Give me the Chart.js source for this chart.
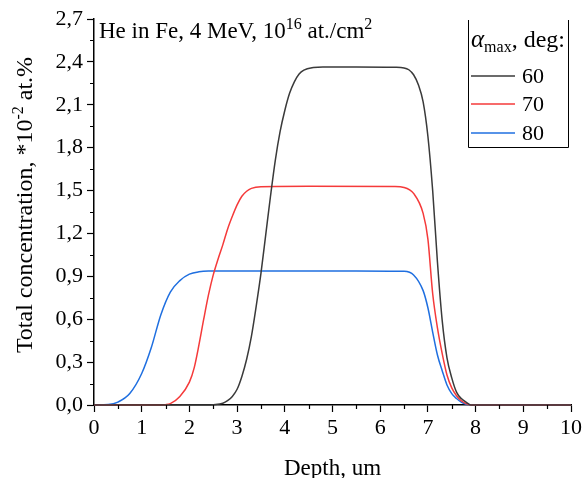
<!DOCTYPE html>
<html>
<head>
<meta charset="utf-8">
<script src="https://cdn.jsdelivr.net/npm/chart.js@4.4.1/dist/chart.umd.min.js"></script>
<style>
  html, body { margin: 0; padding: 0; background: #fff; }
  #wrap { width: 585px; height: 478px; }
</style>
</head>
<body>
<div id="wrap"><canvas id="c"></canvas></div>
<script>
  // values (depth in um, concentration in 10^-2 at.%)
  const labels = ['60', '70', '80'];
  const depth60 = [0, 2.4, 2.5, 2.7, 2.8, 2.9, 3.0, 3.1, 3.2, 3.3, 3.4, 3.5, 3.6, 3.7, 3.8, 3.9, 4.0, 4.1, 4.2, 4.3, 4.4, 4.6, 4.8, 5.5, 6.3, 6.5, 6.6, 6.7, 6.8, 6.9, 7.0, 7.1, 7.2, 7.3, 7.4, 7.5, 7.6, 7.7, 7.8, 7.9, 10];
  const conc60 = [0, 0, 0.002, 0.012, 0.03, 0.06, 0.11, 0.2, 0.32, 0.48, 0.69, 0.92, 1.19, 1.46, 1.71, 1.91, 2.06, 2.18, 2.26, 2.315, 2.342, 2.36, 2.365, 2.365, 2.362, 2.358, 2.345, 2.31, 2.24, 2.12, 1.88, 1.5, 1.0, 0.59, 0.33, 0.19, 0.09, 0.045, 0.02, 0, 0];
  const depth70 = [0, 1.4, 1.5, 1.6, 1.8, 2.0, 2.1, 2.2, 2.3, 2.4, 2.5, 2.6, 2.7, 2.8, 2.9, 3.0, 3.1, 3.2, 3.3, 3.5, 4.5, 6.3, 6.5, 6.7, 6.9, 7.0, 7.1, 7.2, 7.3, 7.4, 7.5, 7.6, 7.7, 7.8, 7.9, 10];
  const conc70 = [0, 0, 0.002, 0.01, 0.06, 0.16, 0.26, 0.42, 0.6, 0.77, 0.91, 1.02, 1.12, 1.23, 1.32, 1.4, 1.46, 1.495, 1.515, 1.527, 1.53, 1.528, 1.522, 1.48, 1.34, 1.16, 0.78, 0.54, 0.36, 0.21, 0.12, 0.065, 0.03, 0.01, 0, 0];
  const depth80 = [0, 0.3, 0.5, 0.75, 1.0, 1.2, 1.4, 1.6, 1.8, 2.0, 2.2, 2.4, 3.5, 5.5, 6.5, 6.7, 6.9, 7.0, 7.1, 7.2, 7.3, 7.4, 7.5, 7.6, 7.7, 7.8, 8.0, 10];
  const conc80 = [0, 0.003, 0.02, 0.08, 0.22, 0.4, 0.63, 0.79, 0.87, 0.915, 0.932, 0.937, 0.938, 0.938, 0.935, 0.91, 0.8, 0.68, 0.51, 0.35, 0.24, 0.14, 0.08, 0.045, 0.02, 0.005, 0, 0];
  const colors = ['#3a3a3a', '#f53a3a', '#1f6fe0'];

  const serif = '"Liberation Serif", "Times New Roman", serif';
  const pts = (xs, ys) => xs.map((x, i) => ({ x, y: ys[i] }));

  // text with superscripts/subscripts: parts = [text, shift, scale, italic]
  function drawRich(ctx, parts, size, x, y, align) {
    const w = parts.map(p => {
      ctx.font = (p[3] ? 'italic ' : '') + Math.round(size * (p[2] || 1)) + 'px ' + serif;
      return ctx.measureText(p[0]).width;
    });
    const total = w.reduce((a, b) => a + b, 0);
    let cx = align === 'center' ? x - total / 2 : x;
    parts.forEach((p, i) => {
      ctx.font = (p[3] ? 'italic ' : '') + Math.round(size * (p[2] || 1)) + 'px ' + serif;
      ctx.fillText(p[0], cx, y + (p[1] || 0) * size);
      cx += w[i];
    });
    return total;
  }

  const extras = {
    id: 'extras',
    afterDraw(chart) {
      const ctx = chart.ctx;
      const xs = chart.scales.x, ys = chart.scales.y;
      const a = chart.chartArea;
      ctx.save();
      ctx.strokeStyle = '#000';
      ctx.lineWidth = 1.2;
      // minor ticks
      ctx.beginPath();
      for (let v = 0.5; v < 10; v += 1) {
        const px = Math.round(xs.getPixelForValue(v)) + 0.5;
        ctx.moveTo(px, a.bottom); ctx.lineTo(px, a.bottom + 4);
      }
      for (let v = 0.15; v < 2.7; v += 0.3) {
        const py = Math.round(ys.getPixelForValue(v)) + 0.5;
        ctx.moveTo(a.left, py); ctx.lineTo(a.left - 4, py);
      }
      ctx.stroke();

      ctx.fillStyle = '#000';
      ctx.textBaseline = 'alphabetic';
      ctx.textAlign = 'left';
      // x title
      drawRich(ctx, [['Depth, um']], 23, (a.left + a.right) / 2, 475, 'center');
      // y title
      ctx.save();
      ctx.translate(32, 205);
      ctx.rotate(-Math.PI / 2);
      drawRich(ctx, [['Total concentration, *10'], ['-2', -0.38, 0.68], [' at.%']], 24, 0, 0, 'center');
      ctx.restore();
      // plot title
      drawRich(ctx, [['He in Fe, 4 MeV, 10'], ['16', -0.4, 0.68], [' at./cm'], ['2', -0.4, 0.68]], 23, 99, 38, 'left');

      // legend
      const lx = 468, rx = 568, ty = 20, by = 147;
      ctx.lineWidth = 1;
      ctx.strokeStyle = '#000';
      ctx.beginPath();
      ctx.moveTo(lx + 0.5, ty); ctx.lineTo(lx + 0.5, by + 0.5);
      ctx.lineTo(rx + 0.5, by + 0.5); ctx.lineTo(rx + 0.5, ty);
      ctx.stroke();
      drawRich(ctx, [['\u03b1', 0, 1.05, true], ['max', 0.2, 0.68], [', deg:']], 24, 471, 47, 'left');
      const rows = [76, 104, 133];
      chart.data.datasets.forEach((ds, i) => {
        ctx.strokeStyle = ds.borderColor;
        ctx.lineWidth = 1.5;
        ctx.beginPath();
        ctx.moveTo(471, rows[i]); ctx.lineTo(515, rows[i]);
        ctx.stroke();
        ctx.textBaseline = 'middle';
        drawRich(ctx, [[ds.label]], 22, 522, rows[i] + 1, 'left');
        ctx.textBaseline = 'alphabetic';
      });
      ctx.restore();
    }
  };

  new Chart(document.getElementById('c'), {
    type: 'line',
    data: {
      datasets: labels.map((lab, i) => ({
        label: lab,
        data: pts([depth60, depth70, depth80][i], [conc60, conc70, conc80][i]),
        borderColor: colors[i],
        borderWidth: 1.5,
        pointRadius: 0,
        fill: false,
        cubicInterpolationMode: 'monotone',
        clip: false
      }))
    },
    options: {
      responsive: true,
      maintainAspectRatio: false,
      animation: false,
      layout: { padding: { top: 19, right: 13, left: 0, bottom: 0 } },
      plugins: {
        legend: { display: false },
        tooltip: { enabled: false }
      },
      scales: {
        x: {
          type: 'linear',
          min: 0, max: 10,
          ticks: { stepSize: 1, color: '#000', font: { family: serif, size: 22 }, padding: 3, maxRotation: 0 },
          grid: { drawOnChartArea: false, tickLength: 7, tickColor: '#000', tickWidth: 1.2 },
          border: { color: '#000', width: 1.5 },
          afterFit: s => { s.height = 73; }
        },
        y: {
          min: 0, max: 2.7,
          ticks: {
            stepSize: 0.3, color: '#000', font: { family: serif, size: 22 }, padding: 4,
            callback: v => v.toFixed(1).replace('.', ',')
          },
          grid: { drawOnChartArea: false, tickLength: 7, tickColor: '#000', tickWidth: 1.2 },
          border: { color: '#000', width: 1.5 },
          afterFit: s => { s.width = 94; }
        }
      }
    },
    plugins: [extras]
  });
</script>
</body>
</html>
